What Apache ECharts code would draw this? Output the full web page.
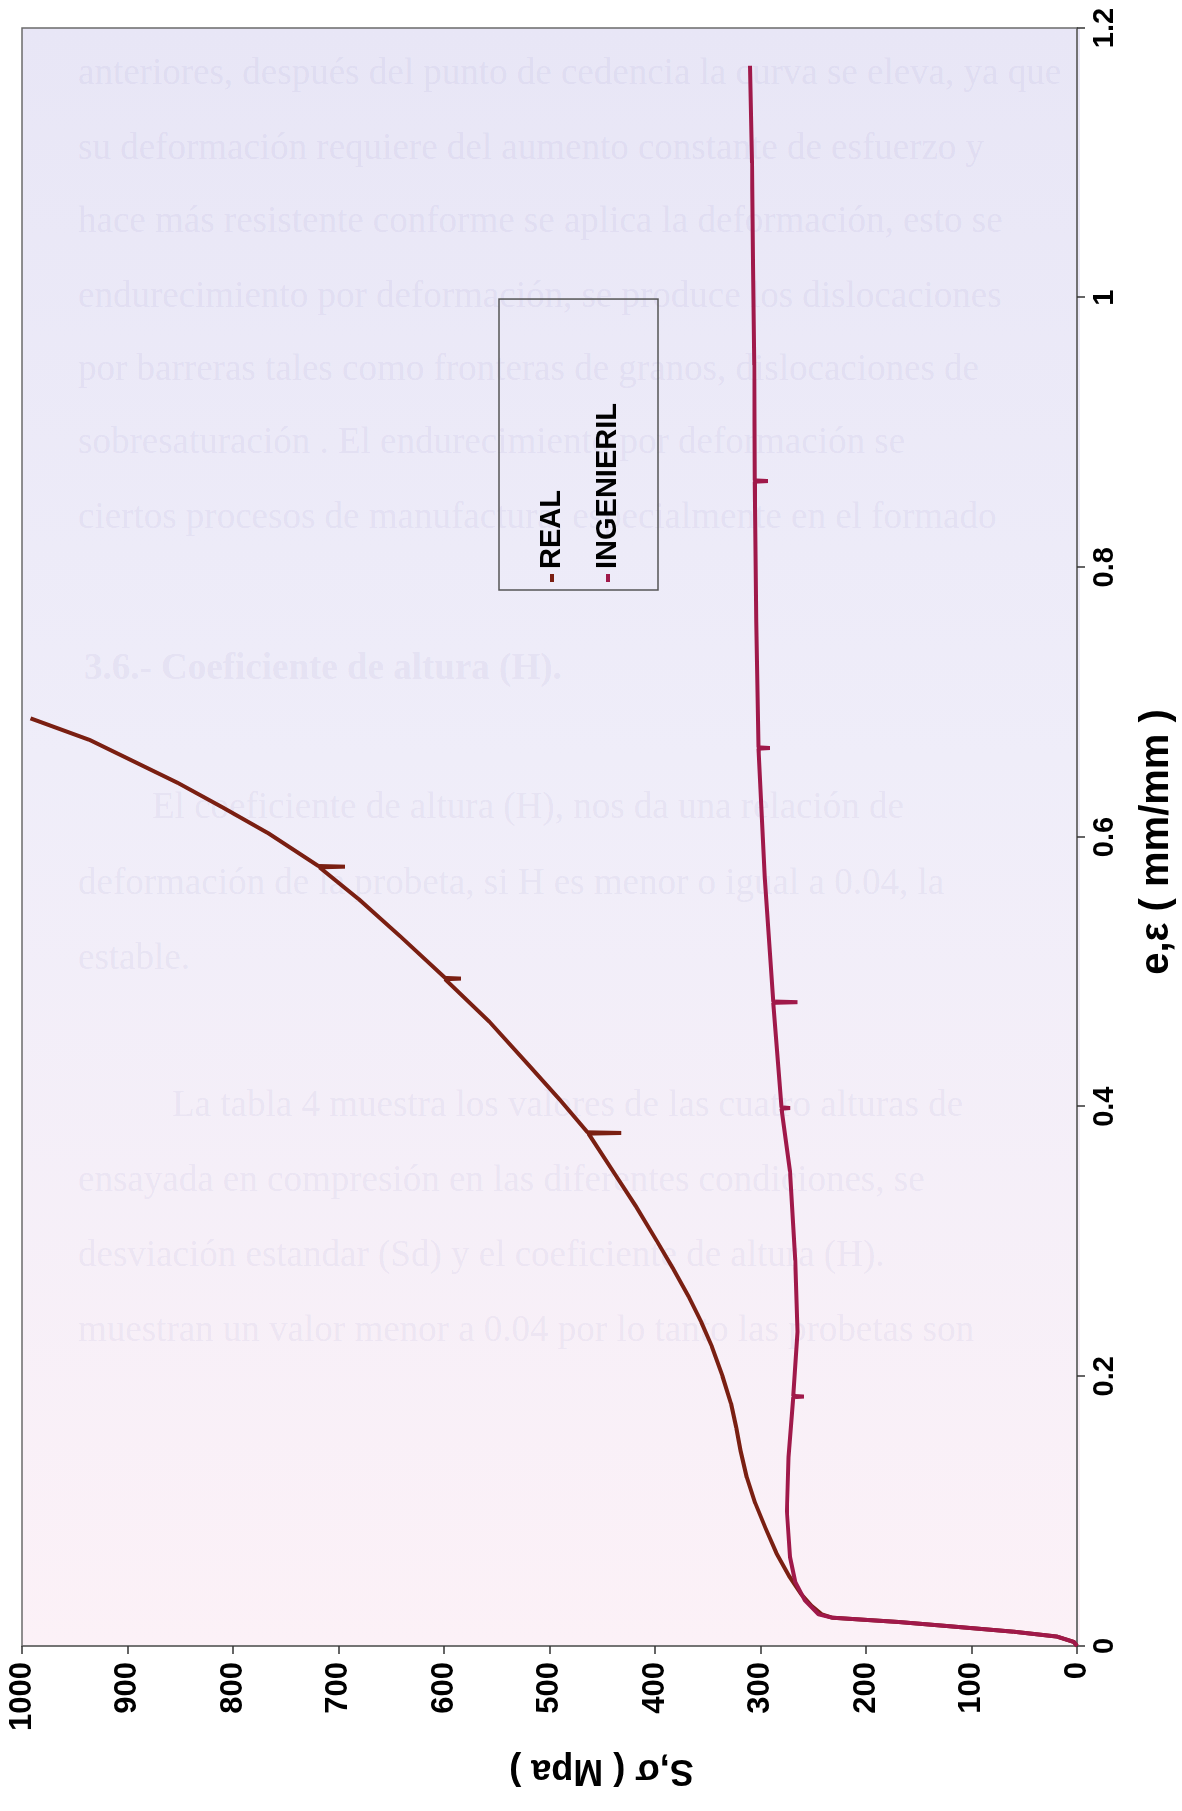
<!DOCTYPE html>
<html>
<head>
<meta charset="utf-8">
<title>S,σ - e,ε</title>
<script src="https://cdn.jsdelivr.net/npm/echarts@6/dist/echarts.min.js"></script>
<style>
html, body { margin: 0; padding: 0; background: #fff; overflow: hidden; }
#page { position: relative; width: 1182px; height: 1811px; }
#fondo {
  position: absolute; overflow: hidden;
  background: linear-gradient(to bottom, #e8e6f6 0%, #efedf9 45%, #fcf1f7 100%);
}
#fondo div {
  position: absolute; white-space: nowrap;
  font-family: "Liberation Serif", serif; font-size: 37px; line-height: 37px;
  color: rgba(96, 86, 168, 0.085);
}
/* the chart is drawn landscape and turned a quarter left, like the scanned page */
#chart {
  position: absolute; left: 0; top: 0; width: 1811px; height: 1182px;
  transform-origin: 0 0; transform: translate(0, 1811px) rotate(-90deg);
}
</style>
</head>
<body>
<div id="page">
  <div id="fondo"></div>
  <div id="chart"></div>
</div>
<script>
// curva real (verdadera)
var realStrain = [0, 0.003, 0.007, 0.0106, 0.0148, 0.0178, 0.021, 0.0235, 0.030, 0.039, 0.052, 0.069, 0.087, 0.106, 0.125, 0.145, 0.162, 0.180, 0.200, 0.222, 0.240, 0.259, 0.280, 0.300, 0.326, 0.350, 0.380, 0.3805, 0.381, 0.405, 0.431, 0.463, 0.4945, 0.495, 0.4955, 0.526, 0.554, 0.5775, 0.578, 0.5785, 0.603, 0.622, 0.640, 0.656, 0.672, 0.688];
var realStress = [0, 3, 19, 60, 123, 169, 232, 242, 252, 262, 273, 285, 295, 305, 313, 319, 323, 328, 336, 346, 356, 368, 383, 398, 418, 438, 463, 432, 464, 490, 520, 557, 599, 584, 599, 641, 681, 718, 694, 719, 767, 810, 852, 894, 936, 992];

// curva ingenieril
var ingStrain = [0, 0.003, 0.007, 0.0106, 0.0148, 0.0178, 0.021, 0.0235, 0.034, 0.0475, 0.066, 0.100, 0.140, 0.1845, 0.185, 0.1855, 0.233, 0.286, 0.352, 0.3985, 0.399, 0.3995, 0.477, 0.4775, 0.478, 0.570, 0.6655, 0.666, 0.6665, 0.760, 0.8635, 0.864, 0.8645, 0.950, 1.026, 1.100, 1.172];
var ingStress = [0, 3, 19, 60, 123, 169, 232, 245, 258, 267, 272, 275, 273.5, 269, 259, 269, 265, 267, 272, 280, 272, 280, 288, 265, 288, 296, 302, 291, 302, 304, 305.5, 293, 305.5, 306, 307, 308, 310];

var seriesNames = ['REAL', 'INGENIERIL'];

// texto del reverso de la hoja que se transparenta
var ghostLines = [
  [25, 56, 'anteriores, después del punto de cedencia la curva se eleva, ya que'],
  [100, 56, 'su deformación requiere del aumento constante de esfuerzo y'],
  [173, 56, 'hace más resistente conforme se aplica la deformación, esto se'],
  [248, 56, 'endurecimiento por deformación, se produce los dislocaciones'],
  [321, 56, 'por barreras tales como fronteras de granos, dislocaciones de'],
  [394, 56, 'sobresaturación . El endurecimiento por deformación se'],
  [469, 56, 'ciertos procesos de manufactura, especialmente en el formado'],
  [620, 62, '3.6.- Coeficiente de altura (H).', true],
  [759, 130, 'El coeficiente de altura (H), nos da una relación de'],
  [835, 56, 'deformación de la probeta, si H es menor o igual a 0.04, la'],
  [910, 56, 'estable.'],
  [1057, 150, 'La tabla 4 muestra los valores de las cuatro alturas de'],
  [1132, 56, 'ensayada en compresión en las diferentes condiciones, se'],
  [1207, 56, 'desviación estandar (Sd) y el coeficiente de altura (H).'],
  [1282, 56, 'muestran un valor menor a 0.04 por lo tanto las probetas son']
];

function zip(xs, ys) {
  var out = [];
  for (var i = 0; i < xs.length; i++) out.push([xs[i], ys[i]]);
  return out;
}

var W = 1811, H = 1182;
var grid = { left: 165, right: 28, top: 22, bottom: 102 };
var font = '"Liberation Sans", Arial, sans-serif';

// tinted plot area behind the (rotated) canvas
var fondo = document.getElementById('fondo');
fondo.style.left = grid.top + 'px';
fondo.style.top = grid.right + 'px';
fondo.style.width = (H - grid.top - grid.bottom) + 'px';
fondo.style.height = (W - grid.left - grid.right) + 'px';
ghostLines.forEach(function (l) {
  var d = document.createElement('div');
  d.style.top = l[0] + 'px';
  d.style.left = l[1] + 'px';
  if (l[3]) d.style.fontWeight = 'bold';
  d.textContent = l[2];
  fondo.appendChild(d);
});

var chart = echarts.init(document.getElementById('chart'), null, { renderer: 'canvas' });

var option = {
  animation: false,
  grid: {
    left: grid.left, right: grid.right, top: grid.top, bottom: grid.bottom,
    show: true, borderColor: '#6b6b6b', borderWidth: 1.5, backgroundColor: 'transparent'
  },
  legend: {
    data: seriesNames,
    orient: 'vertical',
    left: 1221, top: 499,
    padding: [36, 104, 33, 8],
    itemGap: 22,
    itemWidth: 8, itemHeight: 4,
    icon: 'rect',
    borderColor: '#555', borderWidth: 1.5,
    selectedMode: false,
    textStyle: { fontFamily: font, fontSize: 29, fontWeight: 'bold', lineHeight: 34, color: '#000' }
  },
  xAxis: {
    type: 'value', min: 0, max: 1.2, interval: 0.2,
    name: 'e,ε ( mm/mm )',
    nameLocation: 'middle', nameGap: 60,
    nameTextStyle: { fontFamily: font, fontSize: 40, fontWeight: 'bold', color: '#000', padding: [0, 10, 0, 0] },
    axisLine: { lineStyle: { color: '#6b6b6b', width: 1.5 } },
    axisTick: { length: 8, lineStyle: { color: '#333', width: 1.5 } },
    axisLabel: { margin: 13, fontFamily: font, fontSize: 29, fontWeight: 'bold', color: '#000' },
    splitLine: { show: false }
  },
  yAxis: {
    type: 'value', min: 0, max: 1000, interval: 100,
    name: 'S,σ ( Mpa )',
    nameLocation: 'middle', nameRotate: 90, nameGap: 106,
    nameTextStyle: { fontFamily: font, fontSize: 36, fontWeight: 'bold', color: '#000', padding: [0, 104, 0, 0] },
    axisLine: { show: true, lineStyle: { color: '#6b6b6b', width: 1.5 } },
    axisTick: { show: true, length: 8, lineStyle: { color: '#333', width: 1.5 } },
    axisLabel: {
      margin: 16, fontFamily: font, fontSize: 31, fontWeight: 'bold', color: '#000',
      formatter: function (v) { return String(v); }
    },
    splitLine: { show: false }
  },
  series: [
    {
      name: seriesNames[0], type: 'line',
      data: zip(realStrain, realStress),
      showSymbol: false, smooth: false,
      lineStyle: { color: '#7a1f12', width: 4 },
      itemStyle: { color: '#7a1f12' }
    },
    {
      name: seriesNames[1], type: 'line',
      data: zip(ingStrain, ingStress),
      showSymbol: false, smooth: false,
      lineStyle: { color: '#a0194a', width: 4 },
      itemStyle: { color: '#a0194a' }
    }
  ]
};

chart.setOption(option);
</script>
</body>
</html>
